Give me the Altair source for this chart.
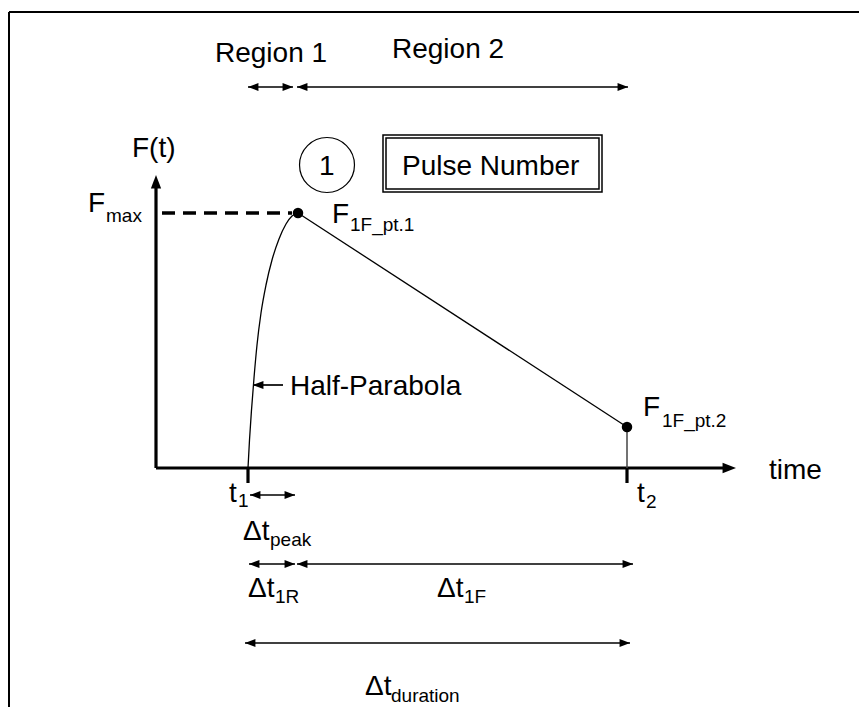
import altair as alt
import pandas as pd

# ---- canvas mapping (diagram units = reference pixels) ----
W, H = 851, 699
X0, Y0 = 8, 8

# ---- key diagram values ----
# half-parabola rise from t1 to the peak (x, y)
curve_x = [248, 249.5, 251.5, 254, 257, 261, 266, 272, 279, 286, 292, 298]
curve_y = [468, 440, 410, 378, 345, 313, 285, 260, 239, 224, 216, 213]

# linear decay from F_1F_pt.1 to F_1F_pt.2
decay_x = [298, 627]
decay_y = [213, 427]

# marked points
dot_x = [298, 627]
dot_y = [213, 427]

# border (top & left)
border_x = [9, 9]
border_y = [12, 12]
border_x2 = [867, 9]
border_y2 = [12, 715]

# thick axes and tick marks
thick_x = [156, 156, 248, 627]
thick_y = [468, 468, 468, 468]
thick_x2 = [156, 724, 248, 627]
thick_y2 = [188, 468, 483, 483]

# axis arrowheads
axis_head_x = [156, 736]
axis_head_y = [175, 468]
axis_head_dir = ["up", "right"]

# thin drop line at t2
drop_x = [627]
drop_y = [427]
drop_y2 = [468]

# dashed F_max guide
dash_x = [162]
dash_x2 = [292]
dash_y = [213]

# double-headed dimension arrows: start, end, level
dim_x1 = [248, 297, 250, 249, 297, 245]
dim_x2 = [293, 628, 295, 295, 633, 630]
dim_y = [87, 87, 495, 564, 564, 643]

# single-headed pointer for "Half-Parabola"
ptr_tip_x = [253]
ptr_tail_x = [283]
ptr_y = [385]

# pulse number circle and box
circle_x = [327]
circle_y = [165]
box_outer = [383, 135, 602, 192]
box_inner = [386, 138, 599, 189]

# text pieces: text, left x, baseline y, font size
texts = ["Region 1", "Region 2", "F(t)", "F", "max", "1", "Pulse Number",
         "F", "1F_pt.1", "Half-Parabola", "F", "1F_pt.2", "time",
         "t", "1", "t", "2",
         "Δt", "peak", "Δt", "1R", "Δt", "1F", "Δt", "duration"]
text_x = [215, 392, 132, 88, 106, 319, 402,
          332, 350, 290, 643, 662, 769,
          229, 238, 637, 646,
          243, 270, 248, 275, 437, 464, 365, 391]
text_y = [62, 58, 157, 212, 222, 175, 175,
          223, 231, 395, 416, 427, 479,
          502, 507, 502, 508,
          540, 546, 597, 603, 597, 603, 695, 702]
text_size = [28, 28, 28, 28, 19, 28, 28,
             28, 19, 28, 28, 19, 28,
             28, 19, 28, 19,
             28, 19, 28, 19, 28, 19, 28, 19]

# ---- scales ----
xs = alt.Scale(domain=[X0, X0 + W], range=[0, W], nice=False, zero=False)
ys = alt.Scale(domain=[Y0, Y0 + H], range=[0, H], nice=False, zero=False)
noax = None


def X(f):
    return alt.X(f, type="quantitative", scale=xs, axis=noax)


def Y(f):
    return alt.Y(f, type="quantitative", scale=ys, axis=noax)


HEAD_R = "M0,0L-1.7,-0.65L-1.7,0.65Z"
HEAD_L = "M0,0L1.7,-0.65L1.7,0.65Z"
HEAD_U = "M0,0L-0.65,1.7L0.65,1.7Z"

# ---- dataframes ----
border_df = pd.DataFrame({"x": border_x, "y": border_y, "x2": border_x2, "y2": border_y2})
thick_df = pd.DataFrame({"x": thick_x, "y": thick_y, "x2": thick_x2, "y2": thick_y2})
curve_df = pd.DataFrame({"x": curve_x, "y": curve_y, "o": list(range(len(curve_x)))})
decay_df = pd.DataFrame({"x": decay_x, "y": decay_y, "o": [0, 1]})
dot_df = pd.DataFrame({"x": dot_x, "y": dot_y})
drop_df = pd.DataFrame({"x": drop_x, "y": drop_y, "y2": drop_y2})
dash_df = pd.DataFrame({"x": dash_x, "x2": dash_x2, "y": dash_y})

seg_rows = []
head_rows = []
for a, b, yy in zip(dim_x1, dim_x2, dim_y):
    seg_rows.append({"x": a, "x2": b, "y": yy})
    head_rows.append({"x": a, "y": yy, "shape": HEAD_L, "size": 150})
    head_rows.append({"x": b, "y": yy, "shape": HEAD_R, "size": 150})
for tip, tail, yy in zip(ptr_tip_x, ptr_tail_x, ptr_y):
    seg_rows.append({"x": tip, "x2": tail, "y": yy})
    head_rows.append({"x": tip, "y": yy, "shape": HEAD_L, "size": 150})
for hx, hy, d in zip(axis_head_x, axis_head_y, axis_head_dir):
    head_rows.append({"x": hx, "y": hy, "shape": HEAD_U if d == "up" else HEAD_R, "size": 250})
seg_df = pd.DataFrame(seg_rows)
head_df = pd.DataFrame(head_rows)

circle_df = pd.DataFrame({"x": circle_x, "y": circle_y})
box_df = pd.DataFrame([
    {"x": box_outer[0], "y": box_outer[1], "x2": box_outer[2], "y2": box_outer[3]},
    {"x": box_inner[0], "y": box_inner[1], "x2": box_inner[2], "y2": box_inner[3]},
])
text_df = pd.DataFrame({"t": texts, "x": text_x, "y": text_y, "s": text_size})

# ---- layers ----
border = alt.Chart(border_df).mark_rule(color="black", strokeWidth=2).encode(
    x=X("x"), y=Y("y"), x2="x2", y2="y2")
thick = alt.Chart(thick_df).mark_rule(color="black", strokeWidth=3.2).encode(
    x=X("x"), y=Y("y"), x2="x2", y2="y2")
dash = alt.Chart(dash_df).mark_rule(color="black", strokeWidth=3.5, strokeDash=[13, 8]).encode(
    x=X("x"), x2="x2", y=Y("y"))
curve = alt.Chart(curve_df).mark_line(color="black", strokeWidth=1.3, interpolate="monotone").encode(
    x=X("x"), y=Y("y"), order="o:Q")
decay = alt.Chart(decay_df).mark_line(color="black", strokeWidth=1.3).encode(
    x=X("x"), y=Y("y"), order="o:Q")
drop = alt.Chart(drop_df).mark_rule(color="#444444", strokeWidth=1.5).encode(
    x=X("x"), y=Y("y"), y2="y2")
dots = alt.Chart(dot_df).mark_point(shape="circle", filled=True, color="black", size=110, opacity=1).encode(
    x=X("x"), y=Y("y"))
segs = alt.Chart(seg_df).mark_rule(color="black", strokeWidth=1.7).encode(
    x=X("x"), x2="x2", y=Y("y"))
heads = alt.Chart(head_df).mark_point(filled=True, color="black", opacity=1, strokeWidth=0).encode(
    x=X("x"), y=Y("y"),
    shape=alt.Shape("shape:N", scale=None, legend=None),
    size=alt.Size("size:Q", scale=None, legend=None))
circ = alt.Chart(circle_df).mark_point(shape="circle", filled=False, color="black", size=3020,
                                        strokeWidth=1.2, opacity=1).encode(x=X("x"), y=Y("y"))
box = alt.Chart(box_df).mark_rect(fillOpacity=0, stroke="black", strokeWidth=1.5).encode(
    x=X("x"), x2="x2", y=Y("y"), y2="y2")
labels = alt.Chart(text_df).mark_text(align="left", baseline="alphabetic", font="Liberation Sans",
                                       color="black").encode(
    x=X("x"), y=Y("y"), text="t:N", size=alt.Size("s:Q", scale=None, legend=None))

chart = alt.layer(border, thick, dash, curve, decay, drop, dots, segs, heads, circ, box, labels).properties(
    width=W, height=H, autosize=alt.AutoSizeParams(type="none"), padding=0
).configure_view(stroke=None)

chart.save("out.html", embed_options={"renderer": "svg", "actions": False})
